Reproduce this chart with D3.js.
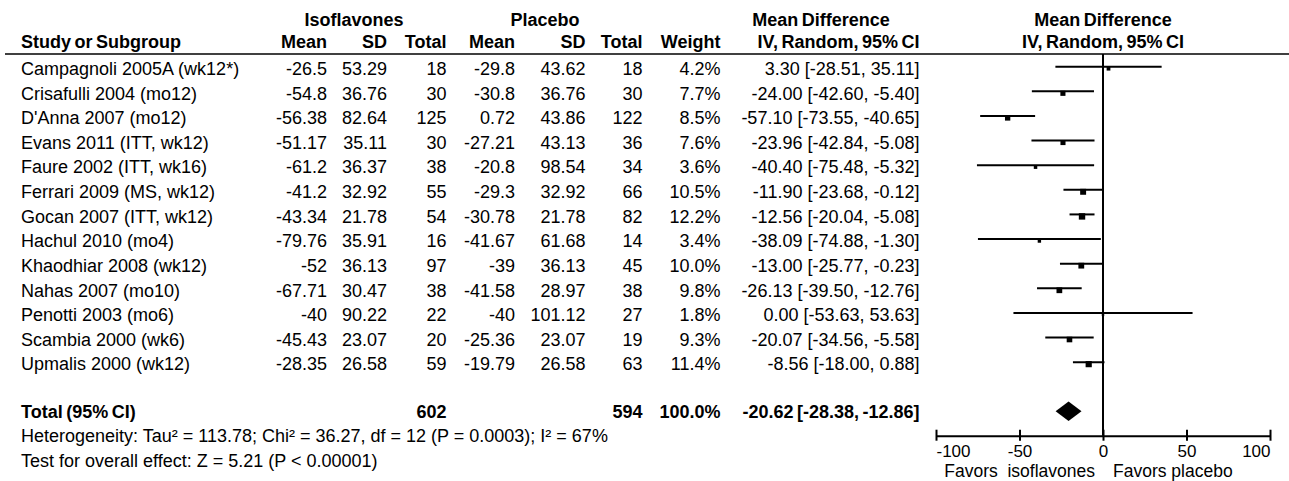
<!DOCTYPE html>
<html>
<head>
<meta charset="utf-8">
<script src="https://cdn.jsdelivr.net/npm/d3@7"></script>
<style>
  html, body { margin: 0; padding: 0; background: #fff; }
  svg { display: block; font-family: "Liberation Sans", Arial, Helvetica, sans-serif; }
  .hdr { font-weight: bold; word-spacing: -1.5px; }
</style>
</head>
<body>
<svg id="chart" width="1289" height="481"></svg>
<script>
// Studies in the meta-analysis (isoflavones vs placebo)
const studies = [
  "Campagnoli 2005A (wk12*)", "Crisafulli 2004 (mo12)", "D'Anna 2007 (mo12)",
  "Evans 2011 (ITT, wk12)", "Faure 2002 (ITT, wk16)", "Ferrari 2009 (MS, wk12)",
  "Gocan 2007 (ITT, wk12)", "Hachul 2010 (mo4)", "Khaodhiar 2008 (wk12)",
  "Nahas 2007 (mo10)", "Penotti 2003 (mo6)", "Scambia 2000 (wk6)", "Upmalis 2000 (wk12)"
];
const isoMean = [-26.5, -54.8, -56.38, -51.17, -61.2, -41.2, -43.34, -79.76, -52, -67.71, -40, -45.43, -28.35];
const isoSD   = [53.29, 36.76, 82.64, 35.11, 36.37, 32.92, 21.78, 35.91, 36.13, 30.47, 90.22, 23.07, 26.58];
const isoN    = [18, 30, 125, 30, 38, 55, 54, 16, 97, 38, 22, 20, 59];
const plaMean = [-29.8, -30.8, 0.72, -27.21, -20.8, -29.3, -30.78, -41.67, -39, -41.58, -40, -25.36, -19.79];
const plaSD   = [43.62, 36.76, 43.86, 43.13, 98.54, 32.92, 21.78, 61.68, 36.13, 28.97, 101.12, 23.07, 26.58];
const plaN    = [18, 30, 122, 36, 34, 66, 82, 14, 45, 38, 27, 19, 63];
const weight  = [4.2, 7.7, 8.5, 7.6, 3.6, 10.5, 12.2, 3.4, 10.0, 9.8, 1.8, 9.3, 11.4];
const md      = [3.30, -24.00, -57.10, -23.96, -40.40, -11.90, -12.56, -38.09, -13.00, -26.13, 0.00, -20.07, -8.56];
const ciLow   = [-28.51, -42.60, -73.55, -42.84, -75.48, -23.68, -20.04, -74.88, -25.77, -39.50, -53.63, -34.56, -18.00];
const ciHigh  = [35.11, -5.40, -40.65, -5.08, -5.32, -0.12, -5.08, -1.30, -0.23, -12.76, 53.63, -5.58, 0.88];

// Pooled result
const totalIsoN = 602;
const totalPlaN = 594;
const totalWeight = 100.0;
const pooled = { md: -20.62, lo: -28.38, hi: -12.86 };
const heterogeneity = "Heterogeneity: Tau\u00B2 = 113.78; Chi\u00B2 = 36.27, df = 12 (P = 0.0003); I\u00B2 = 67%";
const overallTest = "Test for overall effect: Z = 5.21 (P < 0.00001)";

const axisTicks = [-100, -50, 0, 50, 100];
const favorsLeft = "Favors  isoflavones";
const favorsRight = "Favors placebo";

const svg = d3.select("#chart");
const FS = 18;

// Layout
const x = d3.scaleLinear().domain([-100, 100]).range([936, 1270]);
const rowBase = d3.scaleLinear().domain([0, studies.length - 1]).range([75, 75 + 12 * 24.62]);
const size = d3.scaleSqrt().domain([0, d3.max(weight)]).range([0, 6.4]);
const totalBase = 417.7;

function txt(xp, yp, s, anchor, cls) {
  return svg.append("text")
    .attr("x", xp).attr("y", yp)
    .attr("text-anchor", anchor || "start")
    .attr("font-size", FS)
    .attr("class", cls || null)
    .text(s);
}

// Header rows
txt(354, 26, "Isoflavones", "middle", "hdr");
txt(545, 26, "Placebo", "middle", "hdr");
txt(821, 26, "Mean Difference", "middle", "hdr");
txt(x(0), 26, "Mean Difference", "middle", "hdr");

const cols = [
  { x: 327,   h: "Mean" },
  { x: 387,   h: "SD" },
  { x: 446.5, h: "Total" },
  { x: 515,   h: "Mean" },
  { x: 585.5, h: "SD" },
  { x: 642.5, h: "Total" },
  { x: 720.5, h: "Weight" },
  { x: 919.5, h: "IV, Random, 95% CI" }
];
txt(21, 48, "Study or Subgroup", "start", "hdr");
cols.forEach(c => txt(c.x, 48, c.h, "end", "hdr"));
txt(x(0), 48, "IV, Random, 95% CI", "middle", "hdr");

svg.append("line")
  .attr("x1", 5).attr("x2", 1289).attr("y1", 54).attr("y2", 54)
  .attr("stroke", "#000").attr("stroke-width", 1.6);

// Study rows (plain hyphen minus signs)
const f2 = v => v.toFixed(2);
studies.forEach((s, i) => {
  const y = rowBase(i);
  txt(21, y, s);
  const vals = [
    String(isoMean[i]), String(isoSD[i]), String(isoN[i]),
    String(plaMean[i]), String(plaSD[i]), String(plaN[i]),
    weight[i].toFixed(1) + "%",
    `${f2(md[i])} [${f2(ciLow[i])}, ${f2(ciHigh[i])}]`
  ];
  vals.forEach((v, j) => txt(cols[j].x, y, v, "end"));
});

// Total row
txt(21, totalBase, "Total (95% CI)", "start", "hdr");
txt(cols[2].x, totalBase, String(totalIsoN), "end", "hdr");
txt(cols[5].x, totalBase, String(totalPlaN), "end", "hdr");
txt(cols[6].x, totalBase, totalWeight.toFixed(1) + "%", "end", "hdr");
txt(cols[7].x, totalBase, `${f2(pooled.md)} [${f2(pooled.lo)}, ${f2(pooled.hi)}]`, "end", "hdr");

txt(21, totalBase + 24.6, heterogeneity);
txt(21, totalBase + 49.2, overallTest);

// Forest plot
const axisY = 435.7;
const plot = svg.append("g");

plot.append("line")
  .attr("x1", x(0)).attr("x2", x(0)).attr("y1", 54).attr("y2", axisY)
  .attr("stroke", "#000").attr("stroke-width", 2);

const rows = studies.map((s, i) => ({ i, md: md[i], lo: ciLow[i], hi: ciHigh[i], w: weight[i] }));

plot.selectAll("line.ci").data(rows).enter().append("line")
  .attr("class", "ci")
  .attr("x1", d => x(d.lo)).attr("x2", d => x(d.hi))
  .attr("y1", d => rowBase(d.i) - 8.3).attr("y2", d => rowBase(d.i) - 8.3)
  .attr("stroke", "#000").attr("stroke-width", 2);

plot.selectAll("rect.pt").data(rows).enter().append("rect")
  .attr("class", "pt")
  .attr("x", d => x(d.md) - size(d.w) / 2)
  .attr("y", d => rowBase(d.i) - 6.3 - size(d.w) / 2)
  .attr("width", d => size(d.w)).attr("height", d => size(d.w))
  .attr("fill", "#000");

// Pooled diamond
const dy = totalBase - 6.4;
plot.append("path")
  .attr("d", `M${x(pooled.lo)},${dy} L${x(pooled.md)},${dy - 9.7} L${x(pooled.hi)},${dy} L${x(pooled.md)},${dy + 9.7} Z`)
  .attr("fill", "#000");

// Axis
const axis = d3.axisBottom(x).tickValues(axisTicks).tickSizeOuter(0).tickSizeInner(5)
  .tickFormat(d => String(d));
const ag = svg.append("g").attr("transform", `translate(0,${axisY})`).call(axis);
ag.select(".domain").attr("stroke", "#000").attr("stroke-width", 2);
ag.selectAll(".tick line").attr("y1", -6).attr("y2", 5).attr("stroke", "#000").attr("stroke-width", 2);
ag.selectAll(".tick text")
  .attr("font-family", "Liberation Sans, Arial, sans-serif")
  .attr("font-size", 17)
  .attr("fill", "#000")
  .attr("y", 21.5).attr("dy", 0)
  .attr("text-anchor", (d, k) => k === 0 ? "start" : (k === axisTicks.length - 1 ? "end" : "middle"));

svg.append("text").attr("x", x(0) - 8).attr("y", 476.7).attr("text-anchor", "end")
  .attr("font-size", 17.5).style("white-space", "pre").attr("xml:space", "preserve").text(favorsLeft);
svg.append("text").attr("x", x(0) + 10).attr("y", 476.7).attr("text-anchor", "start")
  .attr("font-size", 17.5).text(favorsRight);
</script>
</body>
</html>
